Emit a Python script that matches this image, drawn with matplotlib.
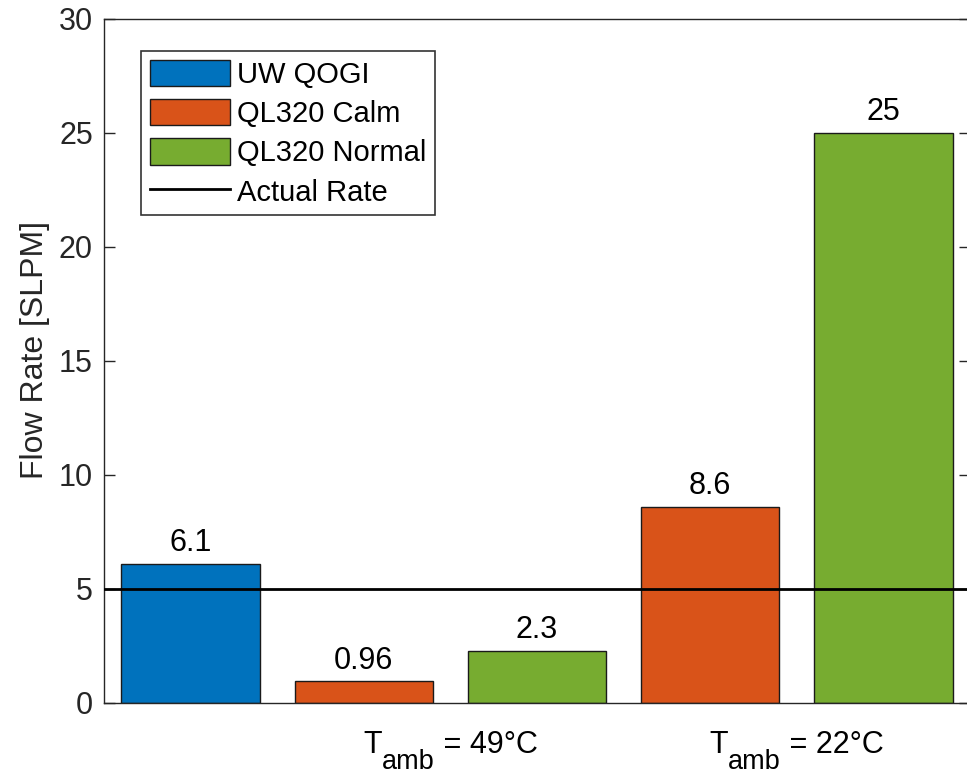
import numpy as np
import matplotlib
matplotlib.use("Agg")
import matplotlib.pyplot as plt
from matplotlib.transforms import blended_transform_factory, offset_copy

plt.rcParams['font.family'] = ['Liberation Sans', 'DejaVu Sans']

# data
flow = [6.1, 0.96, 2.3, 8.6, 25]
labels = ['6.1', '0.96', '2.3', '8.6', '25']
series = ['UW QOGI', 'QL320 Calm', 'QL320 Normal', 'QL320 Calm', 'QL320 Normal']
series_names = ['UW QOGI', 'QL320 Calm', 'QL320 Normal']
colors = {'UW QOGI': '#0072BD', 'QL320 Calm': '#D95319', 'QL320 Normal': '#77AC30'}
actual_rate = 5
group_pos = [2.5, 4.5]
group_temps = ['49°C', '22°C']

axc = '#262626'
fig = plt.figure(figsize=(9.67, 7.76), dpi=100)
ax = fig.add_axes([104/967, 73/776, 866/967, 684/776])

x = np.arange(1, len(flow) + 1)
handles = []
for name in series_names:
    idx = [i for i, s in enumerate(series) if s == name]
    bars = ax.bar(x[idx], [flow[i] for i in idx], width=0.8, color=colors[name],
                  edgecolor='#1a1a1a', linewidth=1.0, label=name, zorder=2)
    ax.bar_label(bars, labels=[labels[i] for i in idx], padding=4, fontsize=22, color='black')
    handles.append(bars)

line = ax.axhline(actual_rate, color='black', linewidth=2, label='Actual Rate', zorder=3)
handles.append(line)

ax.set_xlim(0.5, 5.5)
ax.set_ylim(0, 30)
ax.set_yticks(np.arange(0, 31, 5))
ax.set_xticks([])
ax.tick_params(axis='y', direction='in', length=8, width=1, colors=axc, labelsize=22,
               right=True, pad=8)
for sp in ax.spines.values():
    sp.set_color(axc)
    sp.set_linewidth(1)
ax.set_ylabel('Flow Rate [SLPM]', fontsize=23, color=axc, labelpad=6)
ax.yaxis.label.set_y(0.516)

leg = ax.legend(handles=handles, loc='upper left', bbox_to_anchor=(0.0427, 0.953), borderaxespad=0,
                fontsize=21, frameon=True, fancybox=False, edgecolor='black',
                handlelength=2.75, handleheight=1.0, handletextpad=0.25,
                labelspacing=0.35, borderpad=0.3)
leg.get_frame().set_linewidth(1.2)

# group labels: T with a large subscript "amb"
def text_width(s, size):
    t = fig.text(0, 0, s, fontsize=size)
    fig.canvas.draw()
    w = t.get_window_extent().width
    t.remove()
    return w

base = blended_transform_factory(ax.transData, ax.transAxes)
for gx, temp in zip(group_pos, group_temps):
    parts = [('T', 22, -50), ('amb', 19.5, -66), (' = ' + temp, 22, -50)]
    widths = [text_width(s, fs) for s, fs, _ in parts]
    start = -sum(widths) / 2
    for (s, fs, dy), w in zip(parts, widths):
        tr = offset_copy(base, fig=fig, x=start, y=dy, units='dots')
        ax.text(gx, 0, s, fontsize=fs, transform=tr, ha='left', va='baseline', color='black')
        start += w

fig.savefig('out.png', dpi=100)
